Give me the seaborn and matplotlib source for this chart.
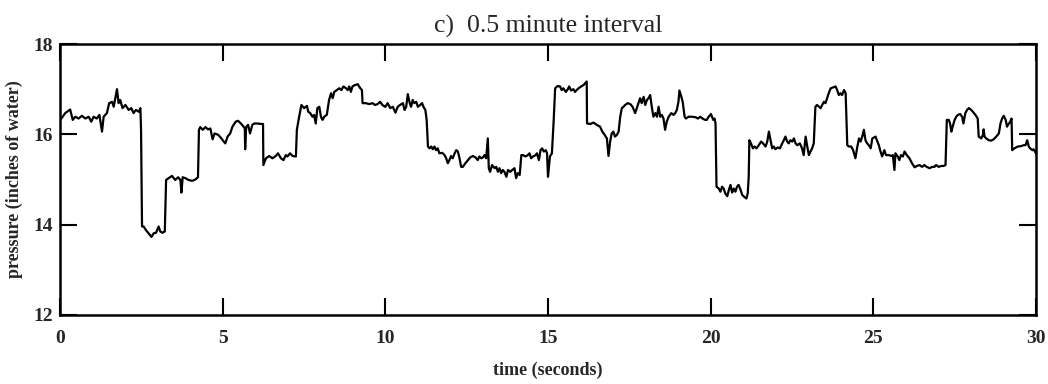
import numpy as np
import pandas as pd
import matplotlib
matplotlib.use("Agg")
import matplotlib.pyplot as plt
import seaborn as sns

# Pressure record, split into 5-second spans (time in s, pressure in inches of water)
t_00_05 = [0.04, 0.16, 0.31, 0.39, 0.47, 0.57, 0.67, 0.78, 0.88, 0.96, 1.03, 1.13, 1.21, 1.29, 1.34, 1.44,
           1.51, 1.60, 1.65, 1.70, 1.75, 1.80, 1.85, 1.92, 2.01, 2.11, 2.19, 2.26, 2.33, 2.42, 2.47, 2.49,
           2.52, 2.57, 2.64, 2.72, 2.81, 2.88, 2.95, 3.03, 3.08, 3.15, 3.22, 3.26, 3.34, 3.44, 3.54, 3.63,
           3.70, 3.73, 3.77, 3.85, 3.95, 4.06, 4.16, 4.24, 4.27, 4.31, 4.39, 4.47, 4.55, 4.62, 4.69, 4.75,
           4.86, 4.96, 5.03]
p_00_05 = [16.35, 16.47, 16.55, 16.32, 16.39, 16.35, 16.41, 16.35, 16.39, 16.28, 16.39, 16.35, 16.43, 16.06, 16.39, 16.47,
           16.69, 16.72, 16.61, 16.80, 17.00, 16.69, 16.76, 16.58, 16.65, 16.54, 16.58, 16.47, 16.54, 16.50, 16.58, 16.10,
           13.96, 13.96, 13.88, 13.81, 13.73, 13.81, 13.82, 13.96, 13.85, 13.82, 13.85, 14.99, 15.03, 15.08, 14.99, 15.05,
           14.99, 14.71, 15.05, 15.03, 14.99, 14.97, 15.00, 15.05, 16.10, 16.16, 16.10, 16.16, 16.11, 16.13, 15.89, 16.02,
           15.99, 15.91, 15.84]

t_05_10 = [5.08, 5.15, 5.23, 5.30, 5.40, 5.47, 5.56, 5.64, 5.68, 5.69, 5.72, 5.78, 5.84, 5.91, 5.97, 6.07,
           6.17, 6.24, 6.25, 6.33, 6.43, 6.53, 6.63, 6.70, 6.79, 6.87, 6.94, 6.99, 7.07, 7.15, 7.25, 7.28,
           7.35, 7.42, 7.50, 7.59, 7.63, 7.69, 7.76, 7.81, 7.86, 7.91, 7.97, 8.02, 8.07, 8.12, 8.20, 8.27,
           8.33, 8.38, 8.43, 8.51, 8.58, 8.65, 8.71, 8.79, 8.84, 8.89, 8.94, 8.99, 9.06, 9.15, 9.23, 9.28,
           9.30, 9.40, 9.50, 9.61, 9.68, 9.76, 9.84, 9.91, 9.99]
p_05_10 = [15.80, 15.95, 16.02, 16.17, 16.28, 16.30, 16.24, 16.17, 16.13, 15.67, 16.16, 16.21, 16.02, 16.21, 16.24, 16.24,
           16.23, 16.23, 15.32, 15.47, 15.52, 15.47, 15.52, 15.58, 15.47, 15.43, 15.54, 15.51, 15.58, 15.52, 15.51, 16.10,
           16.39, 16.65, 16.58, 16.63, 16.50, 16.47, 16.39, 16.43, 16.24, 16.58, 16.61, 16.39, 16.32, 16.39, 16.43, 16.76,
           16.91, 16.80, 16.94, 16.98, 17.02, 16.98, 17.06, 17.02, 16.98, 17.06, 16.94, 17.06, 17.09, 17.11, 17.02, 16.98,
           16.69, 16.69, 16.67, 16.69, 16.65, 16.67, 16.72, 16.65, 16.61]

t_10_15 = [10.00, 10.07, 10.15, 10.23, 10.31, 10.38, 10.45, 10.54, 10.59, 10.64, 10.69, 10.74, 10.79, 10.84, 10.89, 10.95,
           11.00, 11.07, 11.13, 11.17, 11.23, 11.27, 11.31, 11.36, 11.41, 11.46, 11.51, 11.56, 11.61, 11.66, 11.75, 11.82,
           11.87, 11.92, 11.97, 12.02, 12.07, 12.13, 12.18, 12.23, 12.28, 12.33, 12.38, 12.46, 12.54, 12.61, 12.69, 12.77,
           12.84, 12.89, 12.95, 13.00, 13.05, 13.10, 13.15, 13.18, 13.22, 13.28, 13.36, 13.41, 13.46, 13.51, 13.56, 13.61,
           13.66, 13.72, 13.77, 13.84, 13.90, 13.97, 14.02, 14.07, 14.13, 14.18, 14.23, 14.31, 14.38, 14.43, 14.48, 14.54,
           14.62, 14.66, 14.72, 14.77, 14.82, 14.87, 14.93, 14.97, 15.00]
p_10_15 = [16.61, 16.69, 16.58, 16.61, 16.48, 16.61, 16.65, 16.69, 16.54, 16.61, 16.89, 16.72, 16.61, 16.76, 16.69, 16.72,
           16.61, 16.65, 16.69, 16.61, 16.54, 16.32, 15.73, 15.69, 15.73, 15.67, 15.73, 15.65, 15.69, 15.58, 15.59, 15.54,
           15.47, 15.36, 15.43, 15.52, 15.47, 15.58, 15.65, 15.62, 15.47, 15.28, 15.28, 15.36, 15.43, 15.49, 15.52, 15.49,
           15.43, 15.51, 15.47, 15.49, 15.54, 15.47, 15.91, 15.25, 15.17, 15.32, 15.25, 15.28, 15.17, 15.25, 15.14, 15.21,
           15.17, 15.06, 15.21, 15.17, 15.21, 15.25, 15.03, 15.14, 15.10, 15.54, 15.54, 15.51, 15.54, 15.58, 15.47, 15.51,
           15.54, 15.58, 15.43, 15.65, 15.69, 15.62, 15.65, 15.58, 15.06]

t_15_20 = [15.06, 15.12, 15.17, 15.22, 15.30, 15.37, 15.42, 15.47, 15.55, 15.61, 15.65, 15.71, 15.78, 15.83, 15.88, 15.94,
           16.02, 16.09, 16.14, 16.19, 16.20, 16.30, 16.40, 16.50, 16.60, 16.67, 16.74, 16.81, 16.86, 16.91, 16.96, 17.01,
           17.06, 17.12, 17.17, 17.22, 17.27, 17.32, 17.37, 17.45, 17.53, 17.60, 17.68, 17.76, 17.83, 17.88, 17.94, 17.99,
           18.04, 18.09, 18.14, 18.19, 18.24, 18.30, 18.35, 18.40, 18.45, 18.50, 18.55, 18.60, 18.65, 18.71, 18.79, 18.86,
           18.91, 18.96, 19.01, 19.04, 19.10, 19.14, 19.20, 19.24, 19.32, 19.42, 19.53, 19.61, 19.68, 19.75, 19.83, 19.88,
           19.94, 19.99]
p_15_20 = [15.51, 15.58, 16.24, 17.02, 17.07, 17.06, 16.98, 17.02, 16.94, 17.00, 17.06, 16.97, 17.00, 16.94, 16.98, 17.02,
           17.06, 17.09, 17.13, 17.17, 16.24, 16.23, 16.26, 16.21, 16.17, 16.06, 15.99, 15.91, 15.52, 15.84, 16.02, 16.06,
           15.95, 15.99, 16.06, 16.39, 16.58, 16.61, 16.65, 16.69, 16.67, 16.61, 16.47, 16.65, 16.80, 16.69, 16.83, 16.65,
           16.76, 16.80, 16.87, 16.61, 16.39, 16.47, 16.39, 16.61, 16.39, 16.43, 16.35, 16.10, 16.28, 16.39, 16.47, 16.43,
           16.47, 16.54, 16.72, 16.97, 16.83, 16.72, 16.39, 16.35, 16.39, 16.39, 16.38, 16.35, 16.39, 16.35, 16.32, 16.32,
           16.39, 16.43]

t_20_25 = [20.01, 20.08, 20.12, 20.15, 20.18, 20.25, 20.30, 20.35, 20.40, 20.45, 20.51, 20.56, 20.61, 20.66, 20.71, 20.76,
           20.81, 20.86, 20.92, 20.97, 21.04, 21.10, 21.14, 21.17, 21.19, 21.24, 21.30, 21.35, 21.41, 21.48, 21.55, 21.61,
           21.69, 21.74, 21.79, 21.84, 21.89, 21.94, 21.99, 22.06, 22.13, 22.20, 22.25, 22.30, 22.35, 22.40, 22.45, 22.51,
           22.56, 22.61, 22.66, 22.74, 22.81, 22.86, 22.92, 22.97, 23.02, 23.07, 23.12, 23.17, 23.22, 23.27, 23.33, 23.38,
           23.43, 23.48, 23.53, 23.58, 23.63, 23.69, 23.77, 23.84, 23.89, 23.94, 23.99, 24.04, 24.10, 24.15, 24.20, 24.25,
           24.32, 24.38, 24.45, 24.51, 24.56, 24.61, 24.66, 24.71, 24.76, 24.81, 24.86, 24.92, 24.97]
p_20_25 = [16.45, 16.32, 16.35, 16.24, 14.84, 14.80, 14.73, 14.84, 14.80, 14.69, 14.63, 14.77, 14.88, 14.71, 14.80, 14.73,
           14.84, 14.88, 14.77, 14.66, 14.61, 14.58, 14.69, 15.06, 15.87, 15.80, 15.69, 15.73, 15.69, 15.76, 15.84, 15.80,
           15.73, 15.84, 16.06, 15.87, 15.69, 15.73, 15.67, 15.71, 15.69, 15.80, 15.87, 15.95, 15.84, 15.80, 15.87, 15.84,
           15.91, 15.80, 15.76, 15.80, 15.69, 15.54, 15.95, 15.73, 15.54, 15.62, 15.69, 15.80, 16.61, 16.65, 16.61, 16.58,
           16.65, 16.72, 16.69, 16.80, 16.91, 17.02, 17.04, 17.06, 16.98, 16.87, 16.91, 16.87, 16.98, 16.91, 15.76, 15.73,
           15.73, 15.65, 15.47, 15.73, 15.91, 15.84, 15.95, 16.10, 15.87, 15.80, 15.76, 15.69, 15.91]

t_25_30 = [25.07, 25.11, 25.17, 25.21, 25.27, 25.34, 25.39, 25.48, 25.55, 25.60, 25.65, 25.68, 25.75, 25.80, 25.85, 25.91,
           25.96, 26.03, 26.11, 26.19, 26.27, 26.34, 26.42, 26.50, 26.57, 26.64, 26.73, 26.81, 26.88, 26.93, 27.01, 27.09,
           27.16, 27.22, 27.26, 27.32, 27.36, 27.40, 27.44, 27.50, 27.55, 27.60, 27.67, 27.73, 27.77, 27.83, 27.89, 27.94,
           28.01, 28.06, 28.14, 28.21, 28.24, 28.32, 28.37, 28.39, 28.42, 28.47, 28.55, 28.62, 28.70, 28.78, 28.86, 28.91,
           28.96, 29.01, 29.07, 29.11, 29.17, 29.21, 29.25, 29.27, 29.34, 29.44, 29.55, 29.62, 29.68, 29.73, 29.78, 29.82,
           29.89, 29.93, 29.97, 30.00]
p_25_30 = [15.95, 15.87, 15.76, 15.65, 15.51, 15.65, 15.54, 15.54, 15.52, 15.54, 15.21, 15.58, 15.51, 15.43, 15.54, 15.51,
           15.62, 15.54, 15.47, 15.36, 15.27, 15.30, 15.32, 15.28, 15.32, 15.28, 15.25, 15.28, 15.28, 15.32, 15.28, 15.30,
           15.30, 15.32, 16.32, 16.32, 16.24, 16.06, 16.17, 16.32, 16.39, 16.43, 16.45, 16.39, 16.24, 16.47, 16.55, 16.58,
           16.54, 16.50, 16.43, 16.35, 15.95, 15.91, 15.99, 16.11, 15.95, 15.91, 15.87, 15.86, 15.89, 15.95, 16.02, 16.24,
           16.35, 16.41, 16.32, 16.17, 16.24, 16.28, 16.35, 15.65, 15.69, 15.73, 15.74, 15.76, 15.76, 15.87, 15.73, 15.69,
           15.65, 15.67, 15.62, 15.58]

x_ticks = [0, 5, 10, 15, 20, 25, 30]
y_ticks = [12, 14, 16, 18]
title_text = "c)  0.5 minute interval"
x_label = "time (seconds)"
y_label = "pressure (inches of water)"

time_s = t_00_05 + t_05_10 + t_10_15 + t_15_20 + t_20_25 + t_25_30
pressure = p_00_05 + p_05_10 + p_10_15 + p_15_20 + p_20_25 + p_25_30
df = pd.DataFrame({"time": time_s, "pressure": pressure})

sns.set_style("ticks")
plt.rcParams["font.family"] = ["Liberation Serif", "DejaVu Serif"]
plt.rcParams["axes.linewidth"] = 1.8

fig = plt.figure(figsize=(10.48, 3.84), dpi=100)
ax = fig.add_axes([0.0573, 0.1797, 0.9312, 0.7057])

sns.lineplot(data=df, x="time", y="pressure", color="black", linewidth=1.6,
             estimator=None, sort=False, ax=ax)

ax.set_xlim(0, 30)
ax.set_ylim(12, 18)
ax.set_xticks(x_ticks)
ax.set_yticks(y_ticks)
ax.set_xticklabels([str(v) for v in x_ticks], fontweight="bold", fontsize=14)
ax.set_yticklabels([str(v) for v in y_ticks], fontweight="bold", fontsize=14)
ax.tick_params(direction="in", length=12, width=1.5, top=True, right=True, color="black")
ax.tick_params(axis="x", pad=11)
ax.tick_params(axis="y", pad=5)

for s in ax.spines.values():
    s.set_visible(True)
    s.set_color("black")
    s.set_linewidth(1.8)

ax.set_xlabel(x_label, fontsize=13, fontweight="bold")
ax.set_ylabel(y_label, fontsize=13, fontweight="bold")
ax.xaxis.set_label_coords(0.5, -0.172)
ax.yaxis.set_label_coords(-0.038, 0.5)
ax.set_title(title_text, fontsize=18.5, y=1.044, pad=0)

fig.savefig("out.png", dpi=100, facecolor="white")
